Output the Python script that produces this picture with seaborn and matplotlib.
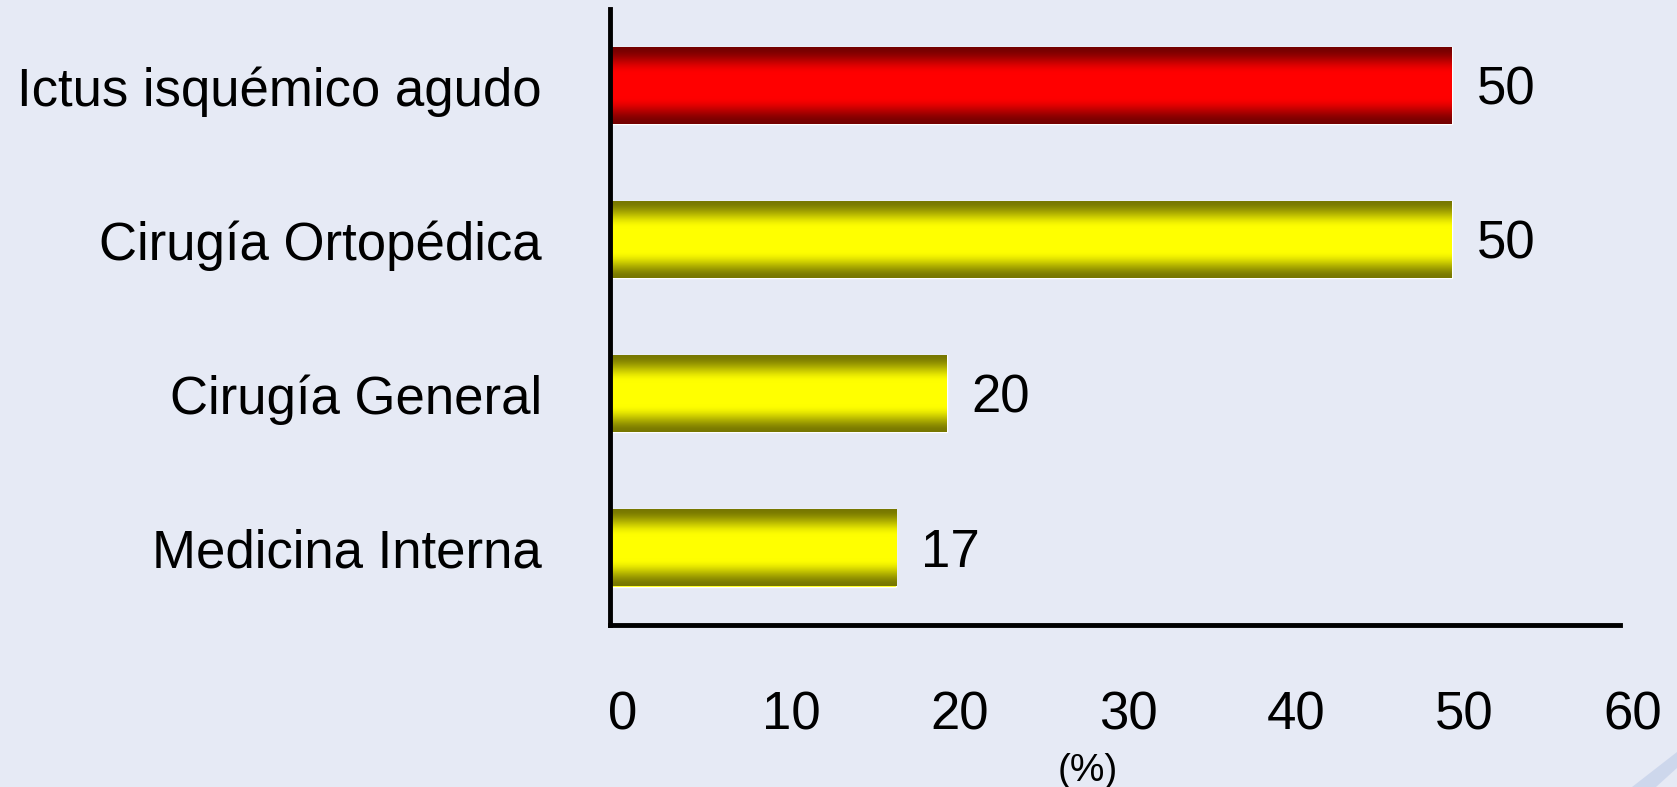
import numpy as np
import pandas as pd
import matplotlib
matplotlib.use("Agg")
import matplotlib.pyplot as plt
import matplotlib.transforms as mtransforms
from matplotlib.patches import Polygon
from matplotlib.colors import to_rgb
import seaborn as sns

# Data
categories = ["Ictus isquémico agudo", "Cirugía Ortopédica", "Cirugía General", "Medicina Interna"]
percentages = [50, 50, 20, 17]
value_labels = ["50", "50", "20", "17"]
x_ticks = [0, 10, 20, 30, 40, 50, 60]
x_label = "(%)"

# Bar colours: bright centre / dark edge for a cylindrical look
bright_colors = ["#FF0000", "#FFFF00", "#FFFF00", "#FFFF00"]
dark_colors = ["#740000", "#777700", "#777700", "#777700"]

sns.set_theme(style="white")
plt.rcParams["font.family"] = ["Liberation Sans", "DejaVu Sans"]

BG = "#E6EAF5"
FS = 38

fig = plt.figure(figsize=(16.77, 7.87), dpi=100)
fig.patch.set_facecolor(BG)
ax = fig.add_axes([610 / 1677, 1 - 625 / 787, 1010 / 1677, 616 / 787])
ax.set_facecolor("none")

df = pd.DataFrame({"categoria": categories, "pct": percentages})
sns.barplot(data=df, x="pct", y="categoria", hue="categoria", palette=bright_colors,
            legend=False, width=0.5, saturation=1, ax=ax, orient="h")

# Vertical shading inside each bar
n = 256
t = np.linspace(0, 1, n)
u = np.clip((1 - np.abs(2 * t - 1)) / 0.7, 0, 1)
w = u * u * (3 - 2 * u)
for patch in list(ax.patches):
    x0, y0 = patch.get_x(), patch.get_y()
    wd, ht = patch.get_width(), patch.get_height()
    idx = int(round(y0 + ht / 2))
    b = np.array(to_rgb(bright_colors[idx]))
    d = np.array(to_rgb(dark_colors[idx]))
    grad = d[None, :] + (b - d)[None, :] * w[:, None]
    im = ax.imshow(grad[:, None, :], extent=[x0, x0 + wd, y0 + ht, y0],
                   aspect="auto", interpolation="bilinear", zorder=patch.get_zorder() + 0.1)
    im.set_clip_path(patch)

ax.set_xlim(0, 60)
ax.set_ylim(3.5, -0.5)

# Value labels
for i, (v, lab) in enumerate(zip(percentages, value_labels)):
    ax.annotate(lab, xy=(v, i), xytext=(18, -0.358 * FS), textcoords="offset points",
                ha="left", va="baseline", fontsize=FS, color="black")

# Axes styling
for s in ["top", "right"]:
    ax.spines[s].set_visible(False)
for s in ["left", "bottom"]:
    ax.spines[s].set_color("black")
    ax.spines[s].set_linewidth(3.5)
    ax.spines[s].set_capstyle("projecting")

ax.set_xticks(x_ticks)
ax.set_xticklabels([str(v) for v in x_ticks])
ax.tick_params(axis="x", direction="out", length=13, width=1.3, colors="white",
               labelcolor="black", labelsize=FS, pad=34)
offset = mtransforms.ScaledTranslation(13 / 100, 0, fig.dpi_scale_trans)
for lbl in ax.get_xticklabels():
    lbl.set_transform(lbl.get_transform() + offset)

ax.set_yticks(range(len(categories)))
ax.set_yticklabels(categories)
ax.set_yticks(np.arange(-0.5, len(categories), 1.0), minor=True)
ax.tick_params(axis="y", which="major", length=0, labelsize=FS, labelcolor="black", pad=49)
ax.tick_params(axis="y", which="minor", direction="out", length=12, width=1.3, colors="white")
ax.set_xlabel("")
ax.set_ylabel("")

fig.text(1088 / 1677, 1 - 771 / 787, x_label, ha="center", va="center", fontsize=28, color="black")

# Faint decorative swoosh in the lower-right corner of the slide background
W, H = 1677, 787
swoosh = Polygon([(1632 / W, 0), (1, 1 - 752 / H), (1, 1 - 768 / H), (1656 / W, 0)],
                 closed=True, transform=fig.transFigure, facecolor="#CBD5EC",
                 edgecolor="none", alpha=0.9)
fig.patches.append(swoosh)

fig.savefig("out.png", dpi=100, facecolor=BG)
